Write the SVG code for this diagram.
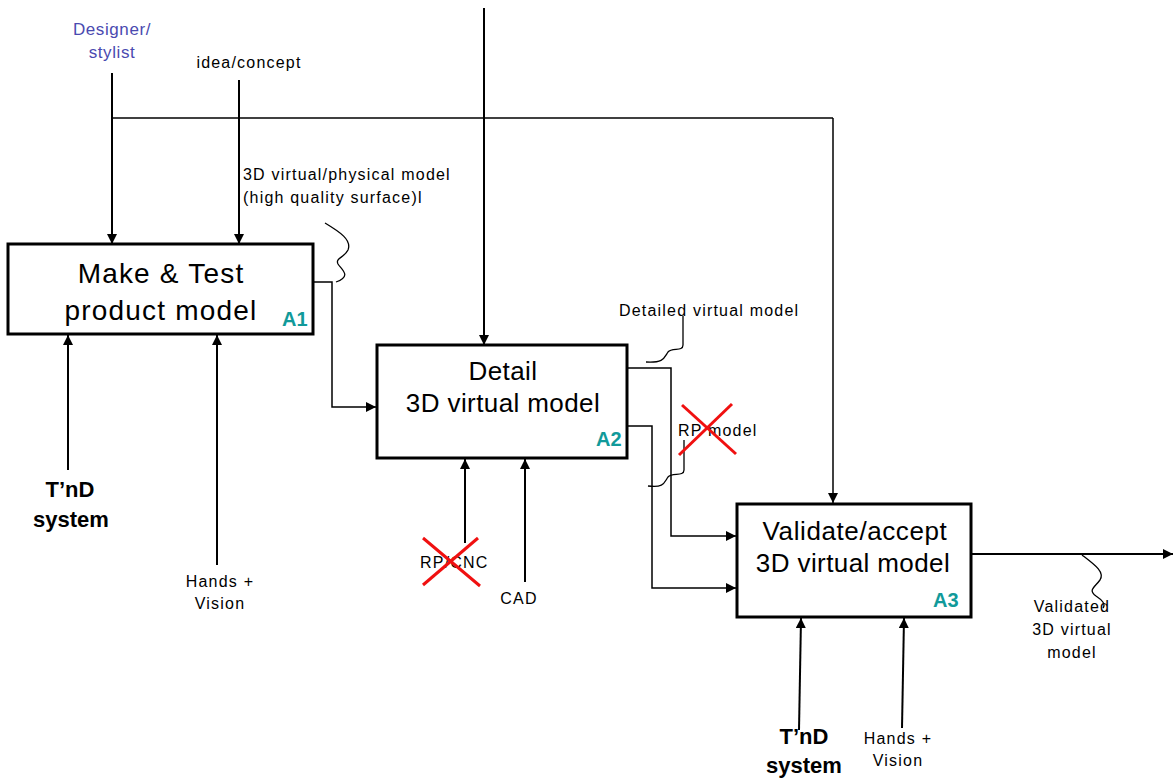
<svg xmlns="http://www.w3.org/2000/svg" width="1173" height="780" viewBox="0 0 1173 780">
<style>
.box{fill:#fff;stroke:#000;stroke-width:3}
.t{font-family:"Liberation Sans",Arial,sans-serif;fill:#000}
.big{font-size:28px;text-anchor:middle;letter-spacing:1.2px}
.mid{font-size:26px;text-anchor:middle;letter-spacing:0.4px}
.lab{font-size:16px;letter-spacing:1.2px}
.id{font-size:20px;font-weight:bold;fill:#119a9a}
.bold{font-size:22px;font-weight:bold;text-anchor:middle}
.c{fill:none;stroke:#000;stroke-width:2}
.thin{fill:none;stroke:#000;stroke-width:1.5}
.sq{fill:none;stroke:#000;stroke-width:1.3}
.x{stroke:#f01010;stroke-width:3}
</style>
<defs>
<marker id="ah" markerWidth="10" markerHeight="10" refX="10" refY="5" orient="auto" markerUnits="userSpaceOnUse">
<path d="M0,0 L10,5 L0,10 Z" fill="#000"/>
</marker>
</defs>
<g id="connectors">
<path class="c" d="M112,73 L112,244" marker-end="url(#ah)"/>
<path class="c" d="M239,80 L239,244" marker-end="url(#ah)"/>
<path class="thin" d="M112,118 L833,118"/>
<path class="thin" d="M833,118 L833,503" marker-end="url(#ah)"/>
<path class="c" d="M484,8 L484,345" marker-end="url(#ah)"/>
<path class="thin" d="M313,282 L332,282 L332,407 L376,407" marker-end="url(#ah)"/>
<path class="thin" d="M627,368 L671,368 L671,536 L736,536" marker-end="url(#ah)"/>
<path class="thin" d="M627,426 L652,426 L652,588 L736,588" marker-end="url(#ah)"/>
<path class="c" d="M68,470 L68,335" marker-end="url(#ah)"/>
<path class="c" d="M217,565 L217,335" marker-end="url(#ah)"/>
<path class="c" d="M465,543 L465,459" marker-end="url(#ah)"/>
<path class="c" d="M525,582 L525,459" marker-end="url(#ah)"/>
<path class="c" d="M799,730 L801,618" marker-end="url(#ah)"/>
<path class="c" d="M902,728 L904,618" marker-end="url(#ah)"/>
<path class="c" d="M972,554 L1173,554" marker-end="url(#ah)"/>
<path class="sq" d="M325,223 C340,232 352,240 348,250 C344,258 335,258 338,264 C342,270 352,276 336,282"/>
<path class="sq" d="M683,316 L683,345 C683,352 672,347 668,352 C664,358 664,363 646,362"/>
<path class="sq" d="M684,440 L684,470 C684,477 672,472 668,477 C664,483 664,488 648,486"/>
<path class="sq" d="M1082,555 C1095,565 1105,572 1100,580 C1094,588 1088,590 1096,596 C1102,600 1106,604 1103,608"/>
</g>
<g id="A1">
<rect class="box" x="8" y="244" width="305" height="90"/>
<text class="t big" x="161" y="283">Make &amp; Test</text>
<text class="t big" x="161" y="320">product model</text>
<text class="t id" x="282" y="326">A1</text>
</g>
<g id="A2">
<rect class="box" x="377" y="345" width="250" height="113"/>
<text class="t mid" x="503" y="380">Detail</text>
<text class="t mid" x="503" y="412">3D virtual model</text>
<text class="t id" x="596" y="446">A2</text>
</g>
<g id="A3">
<rect class="box" x="737" y="504" width="234" height="113"/>
<text class="t mid" x="855" y="540" style="letter-spacing:0.6px">Validate/accept</text>
<text class="t mid" x="853" y="572">3D virtual model</text>
<text class="t id" x="933" y="607">A3</text>
</g>
<g id="labels">
<text class="t" x="112" y="35" style="font-size:17px;letter-spacing:0.6px;text-anchor:middle;fill:#4a4ab0">Designer/</text>
<text class="t" x="112" y="58" style="font-size:17px;letter-spacing:0.6px;text-anchor:middle;fill:#4a4ab0">stylist</text>
<text class="t lab" x="249" y="68" text-anchor="middle">idea/concept</text>
<text class="t lab" x="243" y="180">3D virtual/physical model</text>
<text class="t lab" x="243" y="203">(high quality surface)l</text>
<text class="t lab" x="619" y="316">Detailed virtual model</text>
<text class="t lab" x="678" y="436">RP model</text>
<text class="t lab" x="420" y="568">RP/CNC</text>
<text class="t lab" x="519" y="604" text-anchor="middle">CAD</text>
<text class="t bold" x="70" y="497">T’nD</text>
<text class="t bold" x="71" y="527">system</text>
<text class="t lab" x="220" y="587" text-anchor="middle">Hands +</text>
<text class="t lab" x="220" y="609" text-anchor="middle">Vision</text>
<text class="t bold" x="804" y="744">T’nD</text>
<text class="t bold" x="804" y="773">system</text>
<text class="t lab" x="898" y="744" text-anchor="middle">Hands +</text>
<text class="t lab" x="898" y="766" text-anchor="middle">Vision</text>
<text class="t lab" x="1072" y="612" text-anchor="middle">Validated</text>
<text class="t lab" x="1072" y="635" text-anchor="middle">3D virtual</text>
<text class="t lab" x="1072" y="658" text-anchor="middle">model</text>
</g>
<g id="crosses">
<line class="x" x1="682" y1="405" x2="736" y2="454"/>
<line class="x" x1="679" y1="455" x2="732" y2="404"/>
<line class="x" x1="423" y1="538" x2="480" y2="586"/>
<line class="x" x1="423" y1="585" x2="478" y2="538"/>
</g>
</svg>
